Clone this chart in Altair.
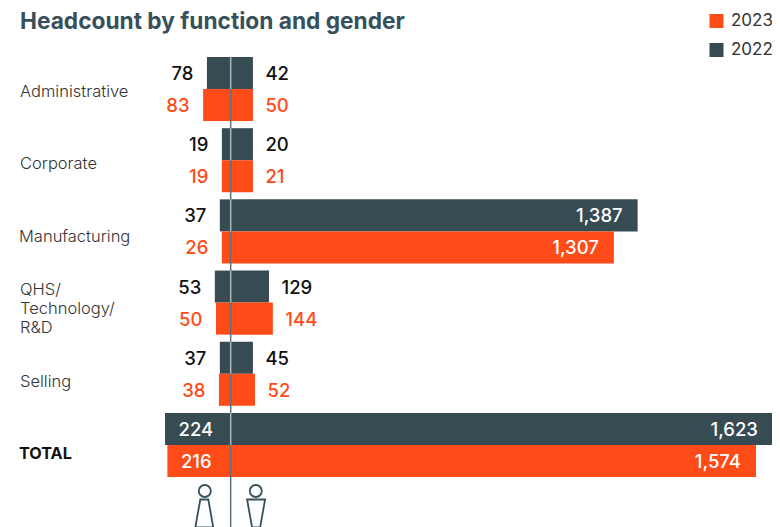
import altair as alt
import pandas as pd

functions = ["Administrative", "Corporate", "Manufacturing", "QHS", "Selling", "TOTAL"]
years = ["2022", "2023"]

# printed labels
women_2022 = ["78", "19", "37", "53", "37", "224"]
women_2023 = ["83", "19", "26", "50", "38", "216"]
men_2022 = ["42", "20", "1,387", "129", "45", "1,623"]
men_2023 = ["50", "21", "1,307", "144", "52", "1,574"]

# bar lengths as drawn in the picture (small bars are drawn longer than their labels)
women_2022_drawn = [81, 30, 37, 54, 37, 224]
women_2023_drawn = [94, 30, 30, 50, 40, 216]
men_2022_drawn = [76, 76, 1389, 131, 76, 1851]
men_2023_drawn = [76, 76, 1308, 144, 83, 1793]

ORANGE = "#ff4b17"
DARK = "#374b53"

rows = []
for i, f in enumerate(functions):
    rows += [
        dict(fn=f, year="2022", side="w", v=-women_2022_drawn[i], label=women_2022[i]),
        dict(fn=f, year="2023", side="w", v=-women_2023_drawn[i], label=women_2023[i]),
        dict(fn=f, year="2022", side="m", v=men_2022_drawn[i], label=men_2022[i]),
        dict(fn=f, year="2023", side="m", v=men_2023_drawn[i], label=men_2023[i]),
    ]
df = pd.DataFrame(rows)

W, H = 764, 519
FONT = "Inter"

xs = alt.Scale(domain=[-760, 1875], range=[0, 772], nice=False, zero=False)
x = alt.X("v:Q", axis=None, scale=xs)
y = alt.Y("fn:N", axis=None, sort=functions,
          scale=alt.Scale(domain=functions, range=[49, 469], paddingInner=0.1, paddingOuter=0))
yo = alt.YOffset("year:N", sort=years, scale=alt.Scale(domain=years, paddingInner=0, paddingOuter=0))

bars = alt.Chart(df).mark_bar(cornerRadius=0).encode(
    x=x, y=y, yOffset=yo,
    color=alt.Color("year:N",
                    scale=alt.Scale(domain=["2023", "2022"], range=[ORANGE, DARK]),
                    legend=alt.Legend(orient="none", legendX=700, legendY=4.5, title=None,
                                      symbolType="square", symbolSize=196, symbolStrokeWidth=0,
                                      symbolOpacity=1, labelFont=FONT, labelFontSize=17,
                                      labelColor="#333333", labelOffset=6, rowPadding=11,
                                      padding=0)),
)

layers = []

center = alt.Chart(pd.DataFrame({"v": [0]})).mark_rule(color="#5f7077", strokeWidth=1.5).encode(
    x=x, y=alt.value(49), y2=alt.value(H))
light = alt.Chart(pd.DataFrame({"fn": functions, "year": "2022", "a": -2.5, "b": 2.5})).mark_bar(
    color="#a7b4b9").encode(
    x=alt.X("a:Q", axis=None, scale=xs), x2="b:Q", y=y, yOffset=yo)

layers += [bars, center, light]


def text_layer(data, color, align, dx, weight=500):
    return alt.Chart(data).mark_text(align=align, dx=dx, font=FONT, fontSize=18.5, fontWeight=weight,
                                     color=color, baseline="middle", dy=1).encode(
        x=x, y=y, yOffset=yo, text="label:N")


inside = df["label"].isin(["224", "216", "1,387", "1,307", "1,623", "1,574"])
for yr, col in [("2022", "#111111"), ("2023", ORANGE)]:
    sub = df[(df.year == yr) & ~inside]
    layers.append(text_layer(sub[sub.side == "w"], col, "right", -13.5))
    layers.append(text_layer(sub[sub.side == "m"], col, "left", 12.5))
sub = df[inside]
layers.append(text_layer(sub[sub.side == "w"], "#ffffff", "left", 13.5))
layers.append(text_layer(sub[sub.side == "m"], "#ffffff", "right", -15))

# chart title
layers.append(alt.Chart(pd.DataFrame({"k": [0]})).mark_text(
    text="Headcount by function and gender", align="left", baseline="middle", font=FONT,
    fontSize=22.7, fontWeight=700, color="#37505c").encode(x=alt.value(12), y=alt.value(13.7)))

# function labels
name_text = {"QHS": ["QHS/", "Technology/", "R&D"]}
name_dy = {"Administrative": 3, "Corporate": 4, "Manufacturing": 5.5, "QHS": -12.5, "Selling": 8, "TOTAL": 9}
name_dx = {"Manufacturing": -1, "TOTAL": -1}
for f in functions:
    t = alt.Chart(pd.DataFrame({"fn": [f]})).mark_text(
        align="left", baseline="middle", font=FONT, fontSize=16.5 if f != "TOTAL" else 16.2,
        fontWeight=700 if f == "TOTAL" else 300, color="#111111" if f == "TOTAL" else "#333333",
        lineHeight=19, dy=name_dy[f], dx=name_dx.get(f, 0),
        text=name_text.get(f, f),
    ).encode(x=alt.value(12), y=y)
    layers.append(t)

# gender pictograms
ICON = "#37505c"
icon_df = pd.DataFrame({"k": [0]})
for cx, path in [(197, "M-4.5 0 L3.5 0 L8.5 28 L-9.5 28 Z"), (248, "M-9 0 L9 0 L4 28 L-4 28 Z")]:
    layers.append(alt.Chart(icon_df).mark_point(shape="circle", size=144, filled=False, stroke=ICON,
                                                strokeWidth=1.8, opacity=1).encode(
        x=alt.value(cx - 0.2), y=alt.value(483)))
    layers.append(alt.Chart(icon_df).mark_point(shape=path, size=4, filled=False, stroke=ICON,
                                                strokeWidth=1.8, opacity=1).encode(
        x=alt.value(cx - 0.2 + (0 if cx == 197 else 0.3)), y=alt.value(491.5)))

chart = alt.layer(*layers).properties(
    width=W, height=H, padding=0,
    autosize=alt.AutoSizeParams(type="none"),
).resolve_scale(y="shared", x="shared").configure_view(stroke=None)

chart.save("out.html", embed_options={"renderer": "svg", "actions": False})
